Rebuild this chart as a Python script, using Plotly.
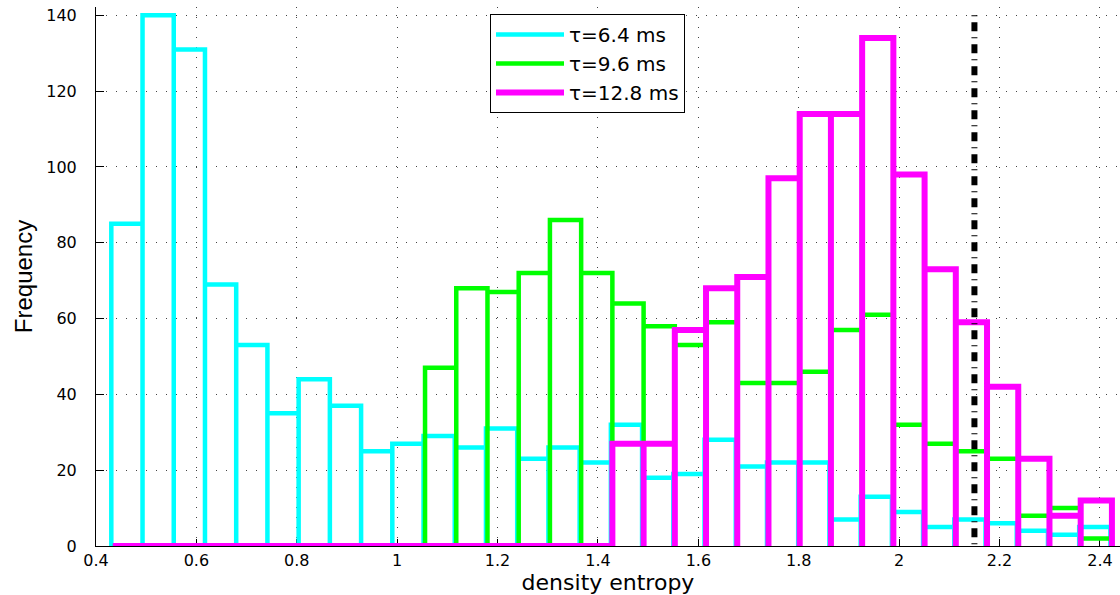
import plotly.graph_objects as go

# Histogram bins (density entropy) shared width, per-series first edge
bin_width = 0.0622
start_6_4 = 0.4305
start_9_6 = 0.4335
start_12_8 = 0.4335

# Frequency per bin
counts_6_4 = [85, 140, 131, 69, 53, 35, 44, 37, 25, 27, 29, 26, 31, 23, 26, 22,
              32, 18, 19, 28, 21, 22, 22, 7, 13, 9, 5, 7, 6, 4, 3, 5]
counts_9_6 = [0, 0, 0, 0, 0, 0, 0, 0, 0, 0, 47, 68, 67, 72, 86, 72,
              64, 58, 53, 59, 43, 43, 46, 57, 61, 32, 27, 25, 23, 8, 10, 2]
counts_12_8 = [0, 0, 0, 0, 0, 0, 0, 0, 0, 0, 0, 0, 0, 0, 0, 0,
               27, 27, 57, 68, 71, 97, 114, 114, 134, 98, 73, 59, 42, 23, 8, 12]

series_names = ["τ=6.4 ms", "τ=9.6 ms", "τ=12.8 ms"]
threshold_x = 2.15
threshold_top = 140

x_tick_vals = [0.4, 0.6, 0.8, 1.0, 1.2, 1.4, 1.6, 1.8, 2.0, 2.2, 2.4]
x_tick_text = ["0.4", "0.6", "0.8", "1", "1.2", "1.4", "1.6", "1.8", "2", "2.2", "2.4"]
y_tick_vals = [0, 20, 40, 60, 80, 100, 120, 140]


def outline(start, width, counts):
    """Open-bottom bar outlines: up the left edge, across the top, down the right edge."""
    xs, ys = [], []
    for i, c in enumerate(counts):
        left = start + i * width
        right = left + width
        xs += [left, left, right, right]
        ys += [0, c, c, 0]
    return xs, ys


fig = go.Figure()

styles = [
    (start_6_4, counts_6_4, "#00FFFF", 4.5),
    (start_9_6, counts_9_6, "#00FF00", 4.5),
    (start_12_8, counts_12_8, "#FF00FF", 6),
]
for name, (start, counts, color, lw) in zip(series_names, styles):
    xs, ys = outline(start, bin_width, counts)
    fig.add_trace(go.Scatter(
        x=xs, y=ys, mode="lines", name=name,
        line=dict(color=color, width=lw),
        hoverinfo="skip",
    ))

# dash-dot threshold line
fig.add_trace(go.Scatter(
    x=[threshold_x, threshold_x], y=[threshold_top, 0], mode="lines",
    line=dict(color="black", width=6, dash="1px,6px,9px,6px"),
    showlegend=False, hoverinfo="skip",
))

tick_font = dict(family="DejaVu Sans, Arial, sans-serif", size=16, color="black")

fig.update_layout(
    width=1120, height=595,
    margin=dict(l=96, r=0, t=7, b=49),
    paper_bgcolor="white", plot_bgcolor="white",
    showlegend=True,
    legend=dict(
        x=(490 - 96) / 1024, y=1 - (14 - 7) / 539,
        xanchor="left", yanchor="top",
        bgcolor="white", bordercolor="black", borderwidth=1,
        font=dict(family="DejaVu Sans, Arial, sans-serif", size=20, color="black"),
        itemwidth=68,
        tracegroupgap=0,
    ),
    xaxis=dict(
        range=[0.4, 2.44],
        tickmode="array", tickvals=x_tick_vals, ticktext=x_tick_text,
        ticks="inside", ticklen=7, tickcolor="black", tickwidth=1,
        showline=True, linecolor="black", linewidth=1,
        showgrid=True, gridcolor="#444444", gridwidth=1, griddash="1px,9px",
        zeroline=False, layer="below traces",
        tickfont=tick_font,
        title=dict(text="density entropy", standoff=7,
                   font=dict(family="DejaVu Sans, Arial, sans-serif", size=22, color="black")),
        automargin=False,
    ),
    yaxis=dict(
        range=[0, 142.2],
        tickmode="array", tickvals=y_tick_vals,
        ticks="inside", ticklen=8, tickcolor="black", tickwidth=1,
        showline=True, linecolor="black", linewidth=1,
        showgrid=True, gridcolor="#444444", gridwidth=1, griddash="1px,9px",
        zeroline=False, layer="below traces",
        tickfont=tick_font, ticklabelstandoff=15,
        title=dict(text="Frequency", standoff=6,
                   font=dict(family="Liberation Sans Narrow, Arial Narrow, Arial, sans-serif",
                             size=24, color="black")),
        automargin=False,
    ),
)

fig.write_html("out.html")
